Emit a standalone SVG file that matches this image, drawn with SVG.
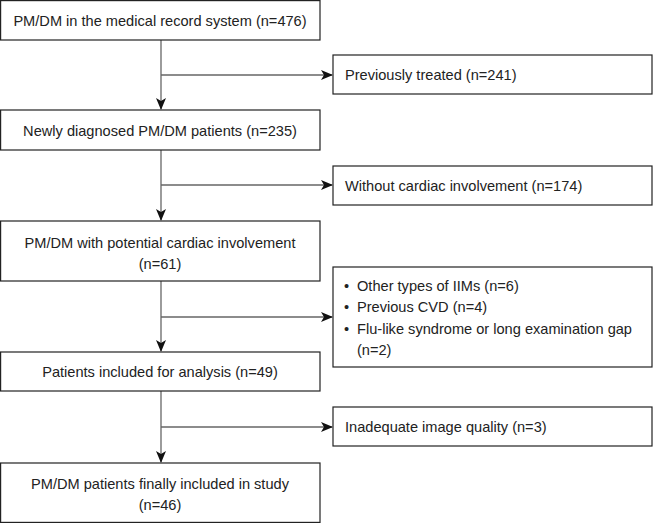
<svg xmlns="http://www.w3.org/2000/svg" width="653" height="523" viewBox="0 0 653 523">
<style>
.box{fill:#fff;stroke:#222;stroke-width:1.2}
.t{font-family:"Liberation Sans",Arial,sans-serif;font-size:14.6px;fill:#222}
.c{text-anchor:middle}
.ln{fill:none;stroke:#666;stroke-width:1.3}
</style>
<defs>
<marker id="ah" viewBox="0 0 12 10" refX="11" refY="5" markerWidth="12" markerHeight="10" markerUnits="userSpaceOnUse" orient="auto">
<path d="M0,0 L12,5 L0,10 L3,5 Z" fill="#111"/>
</marker>
</defs>
<g id="connectors">
<line class="ln" x1="161" y1="40" x2="161" y2="109" marker-end="url(#ah)"/>
<line class="ln" x1="161" y1="75" x2="332" y2="75" marker-end="url(#ah)"/>
<line class="ln" x1="161" y1="150" x2="161" y2="220" marker-end="url(#ah)"/>
<line class="ln" x1="161" y1="185" x2="332" y2="185" marker-end="url(#ah)"/>
<line class="ln" x1="161" y1="281" x2="161" y2="351" marker-end="url(#ah)"/>
<line class="ln" x1="161" y1="317" x2="332" y2="317" marker-end="url(#ah)"/>
<line class="ln" x1="161" y1="391" x2="161" y2="462" marker-end="url(#ah)"/>
<line class="ln" x1="161" y1="427" x2="332" y2="427" marker-end="url(#ah)"/>
</g>
<g id="n1"><rect class="box" x="0.6" y="0.6" width="319.4" height="39.4"/><text class="t c" x="160" y="26">PM/DM in the medical record system (n=476)</text></g>
<g id="n2"><rect class="box" x="0.6" y="110" width="319.4" height="40"/><text class="t c" x="160" y="136">Newly diagnosed PM/DM patients (n=235)</text></g>
<g id="n3"><rect class="box" x="0.6" y="221" width="319.4" height="60"/><text class="t c" x="160" y="248">PM/DM with potential cardiac involvement</text><text class="t c" x="160" y="269">(n=61)</text></g>
<g id="n4"><rect class="box" x="0.6" y="352" width="319.4" height="39"/><text class="t c" x="160" y="377">Patients included for analysis (n=49)</text></g>
<g id="n5"><rect class="box" x="0.6" y="463" width="319.4" height="59.4"/><text class="t c" x="160" y="489">PM/DM patients finally included in study</text><text class="t c" x="160" y="510">(n=46)</text></g>
<g id="r1"><rect class="box" x="333" y="55" width="319" height="39"/><text class="t" x="345" y="80">Previously treated (n=241)</text></g>
<g id="r2"><rect class="box" x="333" y="166" width="319" height="39"/><text class="t" x="345" y="191">Without cardiac involvement (n=174)</text></g>
<g id="r3"><rect class="box" x="333" y="267" width="319" height="100"/>
<text class="t" x="344" y="291">•</text><text class="t" x="357" y="291">Other types of IIMs (n=6)</text>
<text class="t" x="344" y="312">•</text><text class="t" x="357" y="312">Previous CVD (n=4)</text>
<text class="t" x="344" y="334">•</text><text class="t" x="357" y="334">Flu-like syndrome or long examination gap</text>
<text class="t" x="357" y="355">(n=2)</text></g>
<g id="r4"><rect class="box" x="333" y="407" width="319" height="39"/><text class="t" x="345" y="432">Inadequate image quality (n=3)</text></g>
</svg>
